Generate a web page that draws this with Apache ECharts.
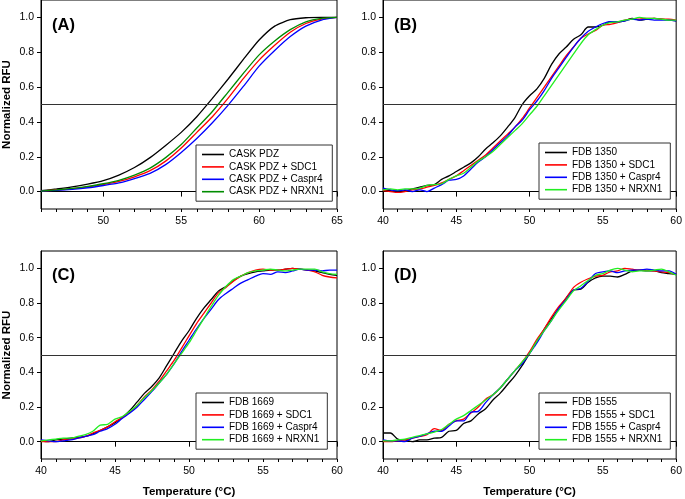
<!DOCTYPE html>
<html>
<head>
<meta charset="utf-8">
<script src="https://cdn.jsdelivr.net/npm/echarts@6/dist/echarts.min.js"></script>
<style>html,body{margin:0;padding:0;background:#fff}#c{width:685px;height:499px}</style>
</head>
<body>
<div id="c"></div>
<script>
// ---- data ----
const tempsA = [46,47,48,49,50,51,52,53,54,55,56,57,58,59,60,61,62,63,64,65];
const caskPDZ        = [0.005,0.015,0.027,0.043,0.063,0.095,0.138,0.195,0.265,0.34,0.43,0.535,0.645,0.76,0.87,0.95,0.987,0.998,1.0,1.0];
const caskPDZ_SDC1   = [0.003,0.009,0.016,0.027,0.04,0.058,0.085,0.12,0.175,0.25,0.34,0.43,0.535,0.65,0.755,0.84,0.915,0.965,0.99,1.0];
const caskPDZ_Caspr4 = [0.003,0.007,0.013,0.022,0.035,0.05,0.075,0.105,0.155,0.225,0.305,0.395,0.495,0.605,0.72,0.81,0.89,0.95,0.985,1.0];
const caskPDZ_NRXN1  = [0.003,0.01,0.018,0.03,0.045,0.065,0.095,0.135,0.195,0.27,0.365,0.46,0.57,0.68,0.785,0.865,0.93,0.975,0.995,1.0];

const tempsBCD = [40,40.5,41,41.5,42,42.5,43,43.5,44,44.5,45,45.5,46,46.5,47,47.5,48,48.5,49,49.5,50,50.5,51,51.5,52,52.5,53,53.5,54,54.5,55,55.5,56,56.5,57,57.5,58,58.5,59,59.5,60];

const fdb1350        = [0.01,0.005,0.0,0.005,0.015,0.025,0.035,0.04,0.07,0.09,0.115,0.14,0.165,0.2,0.245,0.28,0.32,0.37,0.425,0.5,0.55,0.59,0.65,0.73,0.79,0.83,0.875,0.9,0.945,0.945,0.955,0.975,0.975,0.98,0.995,0.985,0.99,0.995,0.99,0.985,0.98];
const fdb1350_SDC1   = [0.005,0.0,-0.005,0.0,0.01,0.015,0.025,0.035,0.05,0.07,0.09,0.12,0.15,0.18,0.21,0.25,0.29,0.33,0.37,0.42,0.48,0.54,0.6,0.66,0.72,0.78,0.83,0.88,0.905,0.925,0.955,0.96,0.97,0.985,0.99,0.99,0.995,0.995,0.99,0.99,0.985];
const fdb1350_Caspr4 = [0.02,0.01,0.005,0.01,0.0,0.01,0.0,0.02,0.04,0.065,0.07,0.09,0.13,0.17,0.2,0.24,0.28,0.32,0.37,0.41,0.47,0.52,0.58,0.65,0.71,0.77,0.83,0.88,0.92,0.945,0.965,0.975,0.975,0.98,0.99,0.985,0.99,0.985,0.985,0.985,0.98];
const fdb1350_NRXN1  = [0.01,0.015,0.01,0.015,0.015,0.02,0.035,0.04,0.045,0.07,0.09,0.105,0.14,0.175,0.2,0.23,0.27,0.31,0.35,0.39,0.44,0.49,0.55,0.61,0.67,0.73,0.79,0.85,0.9,0.93,0.955,0.97,0.975,0.985,0.99,1.0,0.995,0.995,0.99,0.985,0.985];

const fdb1669        = [0.005,0.0,0.01,0.015,0.02,0.025,0.03,0.045,0.065,0.085,0.11,0.14,0.18,0.23,0.28,0.32,0.37,0.44,0.51,0.58,0.64,0.71,0.77,0.82,0.87,0.895,0.93,0.955,0.97,0.98,0.985,0.99,0.99,0.995,1.0,0.995,0.99,0.985,0.975,0.965,0.96];
const fdb1669_SDC1   = [0.0,0.0,0.0,0.01,0.015,0.02,0.03,0.05,0.065,0.085,0.115,0.14,0.17,0.21,0.26,0.3,0.35,0.41,0.47,0.54,0.61,0.68,0.74,0.8,0.86,0.89,0.925,0.955,0.975,0.99,0.995,0.99,0.99,0.995,1.0,0.995,0.99,0.98,0.96,0.95,0.945];
const fdb1669_Caspr4 = [0.01,0.005,0.0,0.005,0.01,0.02,0.03,0.04,0.06,0.075,0.1,0.135,0.165,0.2,0.245,0.29,0.34,0.39,0.45,0.52,0.585,0.65,0.71,0.765,0.82,0.855,0.885,0.915,0.935,0.955,0.97,0.965,0.98,0.975,0.985,0.995,0.99,0.99,0.985,0.99,0.99];
const fdb1669_NRXN1  = [0.005,0.01,0.015,0.02,0.02,0.03,0.04,0.06,0.095,0.1,0.13,0.145,0.175,0.21,0.255,0.295,0.34,0.39,0.45,0.51,0.57,0.64,0.71,0.78,0.845,0.895,0.935,0.955,0.975,0.985,0.99,0.995,0.99,0.985,0.99,0.995,0.995,0.995,0.98,0.97,0.965];

const fdb1555        = [0.05,0.05,0.015,0.01,0.0,0.01,0.01,0.02,0.025,0.06,0.065,0.105,0.12,0.16,0.19,0.24,0.28,0.33,0.38,0.44,0.51,0.58,0.65,0.71,0.77,0.83,0.875,0.88,0.92,0.945,0.955,0.955,0.95,0.965,0.985,0.99,0.985,0.985,0.975,0.97,0.965];
const fdb1555_SDC1   = [0.0,0.0,0.005,0.01,0.02,0.03,0.04,0.075,0.065,0.1,0.12,0.13,0.165,0.2,0.245,0.27,0.31,0.36,0.41,0.46,0.52,0.59,0.65,0.72,0.78,0.83,0.89,0.92,0.94,0.955,0.96,0.98,0.985,1.0,0.995,0.99,0.99,0.985,0.98,0.975,0.965];
const fdb1555_Caspr4 = [0.01,0.005,0.005,0.0,0.02,0.03,0.045,0.06,0.06,0.09,0.12,0.12,0.17,0.175,0.225,0.27,0.31,0.36,0.41,0.45,0.51,0.57,0.64,0.7,0.77,0.82,0.875,0.885,0.925,0.97,0.98,0.985,0.975,0.985,0.99,0.99,0.995,0.99,0.985,0.985,0.965];
const fdb1555_NRXN1  = [0.005,0.005,0.01,0.015,0.025,0.035,0.045,0.055,0.07,0.1,0.13,0.15,0.18,0.21,0.24,0.27,0.31,0.36,0.41,0.46,0.51,0.58,0.64,0.7,0.76,0.815,0.87,0.9,0.93,0.96,0.97,0.99,1.0,0.99,0.98,0.985,0.985,0.99,0.995,0.98,0.96];

const yTickValues = [0.0,0.2,0.4,0.6,0.8,1.0];
const refLevel = 0.5;

const panels = [
  {label:'(A)', temps:tempsA, xMin:46, xMax:65, xMajor:[50,55,60,65], xMinor:[46,47,48,49,50,51,52,53,54,55,56,57,58,59,60,61,62,63,64,65],
   names:['CASK PDZ','CASK PDZ + SDC1','CASK PDZ + Caspr4','CASK PDZ + NRXN1'],
   values:[caskPDZ,caskPDZ_SDC1,caskPDZ_Caspr4,caskPDZ_NRXN1], green:'#008c00', smooth:0.2},
  {label:'(B)', temps:tempsBCD, xMin:40, xMax:60, xMajor:[40,45,50,55,60], xMinor:[40,41,42,43,44,45,46,47,48,49,50,51,52,53,54,55,56,57,58,59,60],
   names:['FDB 1350','FDB 1350 + SDC1','FDB 1350 + Caspr4','FDB 1350 + NRXN1'],
   values:[fdb1350,fdb1350_SDC1,fdb1350_Caspr4,fdb1350_NRXN1], green:'#22ee22', smooth:0.3},
  {label:'(C)', temps:tempsBCD, xMin:40, xMax:60, xMajor:[40,45,50,55,60], xMinor:[40,41,42,43,44,45,46,47,48,49,50,51,52,53,54,55,56,57,58,59,60],
   names:['FDB 1669','FDB 1669 + SDC1','FDB 1669 + Caspr4','FDB 1669 + NRXN1'],
   values:[fdb1669,fdb1669_SDC1,fdb1669_Caspr4,fdb1669_NRXN1], green:'#22ee22', smooth:0.3},
  {label:'(D)', temps:tempsBCD, xMin:40, xMax:60, xMajor:[40,45,50,55,60], xMinor:[40,41,42,43,44,45,46,47,48,49,50,51,52,53,54,55,56,57,58,59,60],
   names:['FDB 1555','FDB 1555 + SDC1','FDB 1555 + Caspr4','FDB 1555 + NRXN1'],
   values:[fdb1555,fdb1555_SDC1,fdb1555_Caspr4,fdb1555_NRXN1], green:'#22ee22', smooth:0.3}
];

// ---- layout ----
const layout = [
  {grid:{left:40, top:0, width:297, height:209}, legend:{left:196, top:145}, label:{x:52, y:17}, yName:true, xName:false},
  {grid:{left:383, top:0, width:297, height:209}, legend:{left:539, top:143}, label:{x:394, y:17}, yName:false, xName:false},
  {grid:{left:40, top:251, width:297, height:208}, legend:{left:196, top:393}, label:{x:52, y:267}, yName:true, xName:true},
  {grid:{left:383, top:251, width:297, height:208}, legend:{left:539, top:393}, label:{x:394, y:267}, yName:false, xName:true}
];

const FONT = '"Liberation Sans", Arial, sans-serif';
const grids=[], xAxes=[], yAxes=[], series=[], legends=[], graphics=[];

panels.forEach((p, i) => {
  const L = layout[i];
  grids.push(Object.assign({show:true, borderColor:'#000', borderWidth:1, backgroundColor:'transparent'}, L.grid));
  xAxes.push({
    type:'value', gridIndex:i, min:p.xMin, max:p.xMax, interval:1,
    axisLine:{show:true, lineStyle:{color:'#000', width:1}},
    axisTick:{show:true, length:5, customValues:p.xMajor, lineStyle:{color:'#000'}},
    axisLabel:{show:true, customValues:p.xMajor, margin:7, color:'#000', fontSize:10.5, fontFamily:FONT},
    splitLine:{show:false},
    name: L.xName ? 'Temperature (°C)' : '',
    nameLocation:'middle', nameGap:27,
    nameTextStyle:{fontSize:11.5, fontWeight:'bold', color:'#000', fontFamily:FONT}
  });
  xAxes.push({
    type:'value', gridIndex:i, min:p.xMin, max:p.xMax, interval:1, position:'bottom',
    axisLine:{show:false},
    axisTick:{show:true, length:3, customValues:p.xMinor, lineStyle:{color:'#000'}},
    axisLabel:{show:false}, splitLine:{show:false}
  });
  yAxes.push({
    type:'value', gridIndex:i, min:-0.1, max:1.1,
    axisLine:{show:true, lineStyle:{color:'#000', width:1}},
    axisTick:{show:true, length:4, customValues:yTickValues, lineStyle:{color:'#000'}},
    axisLabel:{show:true, customValues:yTickValues, margin:7, color:'#000', fontSize:10.5, fontFamily:FONT,
      formatter:v => Number(v).toFixed(1)},
    splitLine:{show:false},
    name: L.yName ? 'Normalized RFU' : '',
    nameLocation:'middle', nameGap:28, nameRotate:90,
    nameTextStyle:{fontSize:11.5, fontWeight:'bold', color:'#000', fontFamily:FONT}
  });
  const colors = ['#000000','#ff0000','#0000ff', p.green];
  p.names.forEach((n, k) => {
    const s = {
      name:n, type:'line', xAxisIndex:i*2, yAxisIndex:i, symbol:'none', showSymbol:false,
      smooth: p.smooth,
      data:p.temps.map((t, j) => [t, p.values[k][j]]),
      lineStyle:{color:colors[k], width:1.3}, itemStyle:{color:colors[k]},
      animation:false, silent:true, z:3
    };
    if (k === 0) {
      s.markLine = {silent:true, symbol:'none', animation:false, label:{show:false},
        lineStyle:{color:'#333', width:1, type:'solid'}, data:[{yAxis:refLevel}]};
    }
    series.push(s);
  });
  legends.push({
    orient:'vertical', left:L.legend.left, top:L.legend.top,
    data:p.names.map(n => ({name:n, icon:'rect'})), icon:'rect',
    itemWidth:22, itemHeight:1.6, itemGap:1.4,
    padding:[4,8,4,6], borderColor:'#333', borderWidth:1, backgroundColor:'#fff',
    selectedMode:false,
    textStyle:{fontSize:10, lineHeight:11, color:'#000', fontFamily:FONT}
  });
  graphics.push({type:'text', left:L.label.x, top:L.label.y,
    style:{text:p.label, fontSize:16.5, fontWeight:'bold', fill:'#000', fontFamily:FONT}});
});

const chart = echarts.init(document.getElementById('c'), null, {renderer:'canvas'});
chart.setOption({
  animation:false,
  grid:grids, xAxis:xAxes, yAxis:yAxes, series:series, legend:legends, graphic:graphics
});
</script>
</body>
</html>
